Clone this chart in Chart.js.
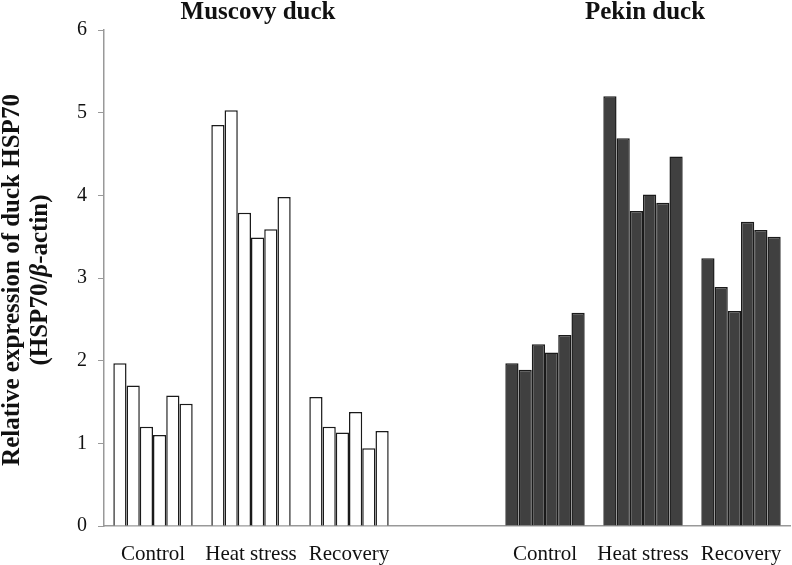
<!DOCTYPE html>
<html>
<head>
<meta charset="utf-8">
<script src="https://cdn.jsdelivr.net/npm/chart.js@4.4.1/dist/chart.umd.min.js"></script>
<style>
  html, body { margin: 0; padding: 0; background: #fff; }
  #wrap { width: 792px; height: 565px; }
</style>
</head>
<body>
<div id="wrap"><canvas id="barChart" width="792" height="565"></canvas></div>
<script>
// categories (empty slot between the two breeds)
var labels = ['Control', 'Heat stress', 'Recovery', '', 'Control', 'Heat stress', 'Recovery'];
var yTicks = [0, 1, 2, 3, 4, 5, 6];

// six replicate bars per treatment
var muscovyControl  = [1.97, 1.70, 1.20, 1.10, 1.58, 1.48];
var muscovyHeat     = [4.85, 5.03, 3.79, 3.49, 3.59, 3.98];
var muscovyRecovery = [1.56, 1.20, 1.13, 1.38, 0.94, 1.15];
var pekinControl    = [1.97, 1.89, 2.20, 2.10, 2.31, 2.58];
var pekinHeat       = [5.20, 4.69, 3.81, 4.01, 3.91, 4.47];
var pekinRecovery   = [3.24, 2.89, 2.60, 3.68, 3.58, 3.50];

var serif = '"Liberation Serif", "Times New Roman", serif';

var datasets = [];
for (var i = 0; i < 6; i++) {
    datasets.push({
        label: 'rep ' + (i + 1),
        data: [muscovyControl[i], muscovyHeat[i], muscovyRecovery[i], null,
               pekinControl[i], pekinHeat[i], pekinRecovery[i]],
        backgroundColor: function(ctx) { return ctx.dataIndex > 3 ? '#404040' : '#ffffff'; },
        borderColor: '#1a1a1a',
        borderWidth: 1.5,
        barPercentage: 1.0,
        categoryPercentage: 0.81,
    });
}

// group headings + rotated y title
var extraText = {
    id: 'extraText',
    afterDraw: function(chart) {
        var ctx = chart.ctx;
        var x = chart.scales.x;
        ctx.save();
        ctx.fillStyle = '#111';
        ctx.font = 'bold 25px ' + serif;
        ctx.textAlign = 'center';
        ctx.textBaseline = 'alphabetic';
        ctx.fillText('Muscovy duck', x.getPixelForValue(1) + 7, 19);
        ctx.fillText('Pekin duck', x.getPixelForValue(5) + 2, 19);

        ctx.translate(19, 280);
        ctx.rotate(-Math.PI / 2);
        ctx.fillText('Relative expression of duck HSP70', 0, 0);

        // second line with italic beta
        var a = '(HSP70/', b = '\u03B2', c = '-actin)';
        var fontB = 'bold 25px ' + serif, fontI = 'bold italic 25px ' + serif;
        ctx.font = fontB; var wa = ctx.measureText(a).width, wc = ctx.measureText(c).width;
        ctx.font = fontI; var wb = ctx.measureText(b).width;
        var start = -(wa + wb + wc) / 2;
        ctx.textAlign = 'left';
        ctx.font = fontB; ctx.fillText(a, start, 28);
        ctx.font = fontI; ctx.fillText(b, start + wa, 28);
        ctx.font = fontB; ctx.fillText(c, start + wa + wb, 28);
        ctx.restore();
    }
};

var barConfig = {
    type: 'bar',
    data: { labels: labels, datasets: datasets },
    plugins: [extraText],
    options: {
        responsive: false,
        animation: false,
        layout: { padding: { top: 30, right: 2, left: 0, bottom: 0 } },
        plugins: { legend: { display: false }, tooltip: { enabled: false } },
        scales: {
            x: {
                grid: { display: false },
                border: { display: true, color: '#999', width: 1.5 },
                ticks: { color: '#111', font: { family: serif, size: 21 }, padding: 8, maxRotation: 0, autoSkip: false },
                afterFit: function(s) { s.height = 39; }
            },
            y: {
                min: 0, max: 6,
                afterBuildTicks: function(s) { s.ticks = yTicks.map(function(v) { return { value: v }; }); },
                grid: { drawOnChartArea: false, drawTicks: true, tickLength: 6, color: '#999' },
                border: { display: true, color: '#999', width: 1.5 },
                ticks: { color: '#111', font: { family: serif, size: 20 }, padding: 11 },
                afterFit: function(s) { s.width = 104; }
            }
        }
    }
};

var barChart = new Chart(document.getElementById('barChart'), barConfig);
</script>
</body>
</html>
